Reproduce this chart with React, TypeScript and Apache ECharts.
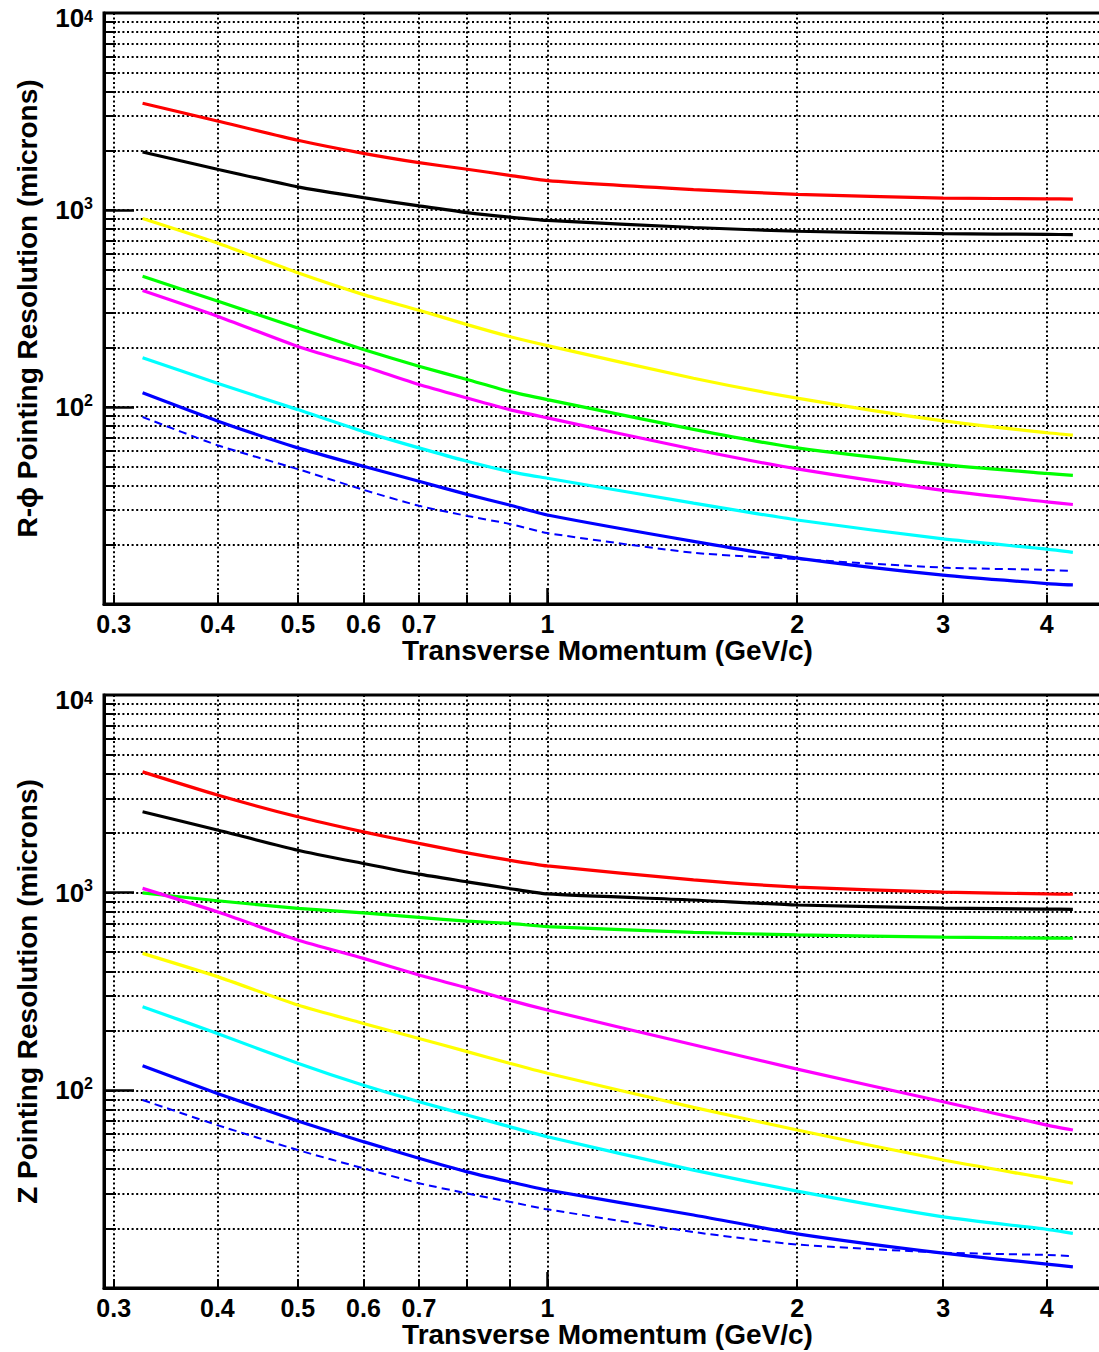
import React, { useEffect, useRef } from "react";
import * as echarts from "echarts";

// ---------- data ----------
const momentum = [0.325, 0.4, 0.5, 0.6, 0.7, 0.8, 0.9, 1.0, 1.5, 2.0, 3.0, 4.0, 4.3];

// R-phi pointing resolution (microns)
const rphiRed = [3480, 2830, 2260, 1940, 1740, 1610, 1500, 1410, 1270, 1200, 1150, 1140, 1135];
const rphiBlack = [1970, 1610, 1310, 1155, 1050, 970, 920, 885, 815, 780, 758, 752, 750];
const rphiYellow = [905, 680, 480, 372, 310, 262, 228, 205, 140, 111, 85, 74, 72];
const rphiGreen = [461, 345, 252, 196, 161, 138, 120, 109, 77, 62, 51, 46, 45];
const rphiMagenta = [390, 289, 203, 161, 130, 111, 97, 88, 61, 48.5, 37.7, 33, 32];
const rphiCyan = [178, 132, 97, 75, 62, 53, 47, 43.5, 32.5, 26.7, 21.4, 19, 18.3];
const rphiBlue = [118, 85, 62, 50, 42, 36, 31.8, 28.3, 20.8, 17.1, 14, 12.7, 12.5];
const rphiBlueDashed = [89, 64, 48.4, 38, 31.5, 28, 25.5, 22.9, 18.2, 16.9, 15.3, 14.9, 14.7];

// Z pointing resolution (microns)
const zRed = [4085, 3120, 2420, 2030, 1775, 1590, 1460, 1365, 1160, 1067, 1007, 985, 982];
const zBlack = [2566, 2075, 1640, 1405, 1240, 1135, 1050, 985, 918, 866, 836, 826, 824];
const zGreen = [998, 910, 833, 791, 750, 718, 699, 673, 630, 611, 596, 589, 588];
const zMagenta = [1051, 800, 576, 465, 383, 330, 286, 255, 170, 128, 87.5, 66.7, 63];
const zYellow = [493, 376, 270, 218, 183, 157, 137, 122, 82, 63, 44.4, 35.9, 33.9];
const zCyan = [265, 194, 137, 106, 87.6, 75, 65.5, 58.2, 39.5, 30.9, 22.9, 19.8, 18.9];
const zBlue = [133, 96.5, 70, 55, 45.3, 38.7, 34.5, 31.3, 23.4, 18.8, 15, 13.2, 12.8];
const zBlueDashed = [89.3, 66.7, 49.9, 40.3, 33.9, 30.1, 27.3, 25, 19.2, 16.6, 15.1, 14.7, 14.5];

// axes
const xTickValues = [0.3, 0.4, 0.5, 0.6, 0.7, 0.8, 0.9, 1, 2, 3, 4];
const xLabelValues = [0.3, 0.4, 0.5, 0.6, 0.7, 1, 2, 3, 4];
const xMajorTickValues = [1];
const yTickValues = [
  20, 30, 40, 50, 60, 70, 80, 90, 100,
  200, 300, 400, 500, 600, 700, 800, 900, 1000,
  2000, 3000, 4000, 5000, 6000, 7000, 8000, 9000,
];
const yLabelValues = [100, 1000, 10000];
const yMajorTickValues = [100, 1000];
const X_MIN = 0.292;
const X_MAX = 4.78;
const Y_MIN = 10;
const Y_MAX = 10000;

const xTitle = "Transverse Momentum (GeV/c)";
const yTitleTop = "R-\u03d5 Pointing Resolution (microns)";
const yTitleBottom = "Z Pointing Resolution (microns)";

const lg = Math.log10;
const FONT = "'Liberation Sans', Arial, Helvetica, sans-serif";
const dotted = { color: "#000", width: 2, type: [2, 2.6] as number[] };

function fmtX(v: number) {
  const p = Math.pow(10, v);
  return p < 0.95 ? p.toFixed(1) : p.toFixed(0);
}

function fmtY(v: number) {
  const e = Math.round(v);
  // the top label sits a little below its tick, as in the reference
  return e >= 4 ? `{bt|10}{st|${e}}` : `{b|10}{s|${e}}`;
}

function xAxesFor(gridIndex: number) {
  return [
    {
      type: "value",
      gridIndex,
      position: "bottom",
      min: lg(X_MIN),
      max: lg(X_MAX),
      name: xTitle,
      nameLocation: "middle",
      nameGap: 30,
      nameTextStyle: { fontFamily: FONT, fontSize: 28, fontWeight: "bold", color: "#000", verticalAlign: "top" },
      axisLine: { show: true, onZero: false, lineStyle: { color: "#000", width: 3 } },
      axisTick: { show: true, inside: true, length: 9, customValues: xTickValues.map(lg), lineStyle: { color: "#000", width: 2 } },
      axisLabel: {
        show: true,
        customValues: xLabelValues.map(lg),
        formatter: (v: number) => fmtX(v),
        margin: 7,
        fontFamily: FONT,
        fontSize: 25,
        fontWeight: "bold",
        color: "#000",
      },
      splitLine: { show: true, lineStyle: dotted },
    },
    {
      type: "value",
      gridIndex,
      position: "bottom",
      min: lg(X_MIN),
      max: lg(X_MAX),
      axisLine: { show: false, onZero: false },
      axisTick: { show: true, inside: true, length: 16, customValues: xMajorTickValues.map(lg), lineStyle: { color: "#000", width: 2.5 } },
      axisLabel: { show: false },
      splitLine: { show: false },
    },
  ];
}

function yAxesFor(gridIndex: number, title: string) {
  const base = { fontFamily: FONT, fontWeight: "bold", color: "#000" };
  return [
    {
      type: "value",
      gridIndex,
      position: "left",
      min: lg(Y_MIN),
      max: lg(Y_MAX),
      name: title,
      nameLocation: "middle",
      nameRotate: 90,
      nameGap: 63,
      nameTextStyle: { fontFamily: FONT, fontSize: 28, fontWeight: "bold", color: "#000" },
      axisLine: { show: true, onZero: false, lineStyle: { color: "#000", width: 3 } },
      axisTick: { show: true, inside: true, length: 12, customValues: yTickValues.map(lg), lineStyle: { color: "#000", width: 2 } },
      axisLabel: {
        show: true,
        customValues: yLabelValues.map(lg),
        formatter: fmtY,
        margin: 11,
        rich: {
          b: { ...base, fontSize: 26, lineHeight: 30 },
          s: { ...base, fontSize: 16, lineHeight: 16, verticalAlign: "top" },
          bt: { ...base, fontSize: 26, lineHeight: 30, padding: [10, 0, 0, 0] },
          st: { ...base, fontSize: 16, lineHeight: 16, verticalAlign: "top", padding: [10, 0, 0, 0] },
        },
      },
      splitLine: { show: true, lineStyle: dotted },
    },
    {
      type: "value",
      gridIndex,
      position: "left",
      min: lg(Y_MIN),
      max: lg(Y_MAX),
      axisLine: { show: false, onZero: false },
      axisTick: { show: true, inside: true, length: 30, customValues: yMajorTickValues.map(lg), lineStyle: { color: "#000", width: 2.5 } },
      axisLabel: { show: false },
      splitLine: { show: false },
    },
  ];
}

function line(data: number[], color: string, axisIndex: number, dashed = false) {
  return {
    type: "line",
    xAxisIndex: axisIndex,
    yAxisIndex: axisIndex,
    data: momentum.map((p, i) => [lg(p), lg(data[i])]),
    showSymbol: false,
    symbol: "none",
    smooth: 0.2,
    clip: true,
    silent: true,
    lineStyle: { color, width: dashed ? 2 : 3.2, type: dashed ? [8, 5] : "solid" },
    z: 3,
  };
}

export default function App() {
  const ref = useRef<HTMLDivElement>(null);
  useEffect(() => {
    if (!ref.current) return;
    const chart = echarts.init(ref.current, null, { renderer: "svg" });
    const gridCommon = {
      left: 104,
      width: 1007,
      show: true,
      borderColor: "#000",
      borderWidth: 3,
      backgroundColor: "#fff",
      containLabel: false,
      outerBoundsMode: "none",
    };
    chart.setOption({
      animation: false,
      backgroundColor: "#fff",
      grid: [
        { ...gridCommon, top: 13, height: 591 },
        { ...gridCommon, top: 695, height: 593 },
      ],
      xAxis: [...xAxesFor(0), ...xAxesFor(1)],
      yAxis: [...yAxesFor(0, yTitleTop), ...yAxesFor(1, yTitleBottom)],
      series: [
        line(rphiRed, "#ff0000", 0),
        line(rphiBlack, "#000000", 0),
        line(rphiYellow, "#ffff00", 0),
        line(rphiGreen, "#00ff00", 0),
        line(rphiMagenta, "#ff00ff", 0),
        line(rphiCyan, "#00ffff", 0),
        line(rphiBlueDashed, "#0000ff", 0, true),
        line(rphiBlue, "#0000ff", 0),
        line(zRed, "#ff0000", 2),
        line(zBlack, "#000000", 2),
        line(zGreen, "#00ff00", 2),
        line(zMagenta, "#ff00ff", 2),
        line(zYellow, "#ffff00", 2),
        line(zCyan, "#00ffff", 2),
        line(zBlueDashed, "#0000ff", 2, true),
        line(zBlue, "#0000ff", 2),
      ],
    });
    return () => chart.dispose();
  }, []);
  return (
    <div
      ref={ref}
      style={{ position: "absolute", left: 0, top: 0, width: 1099, height: 1352, background: "#fff" }}
    />
  );
}
